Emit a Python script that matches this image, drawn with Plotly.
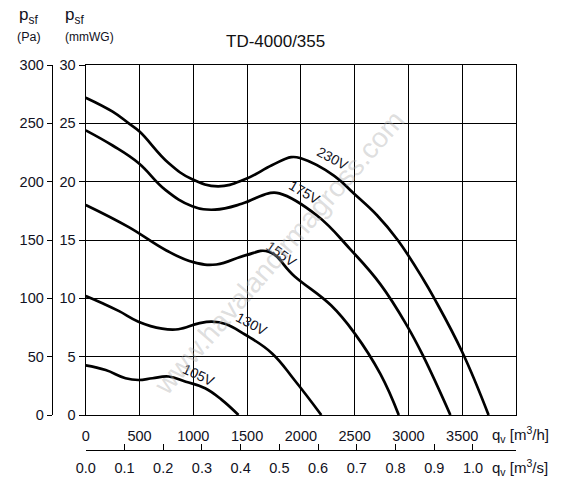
import plotly.graph_objects as go

# ---- data (q in m3/h, p in Pa) ----
q_230 = [0, 250, 400, 500, 770, 990, 1230, 1480, 1730, 1910, 2000, 2310, 2490, 2710, 2900, 3140, 3240, 3500, 3745]
p_230 = [272, 260, 250, 243, 216, 202, 196, 202, 214, 221, 220, 205, 190, 171, 150, 116, 100, 54, 0]

q_175 = [0, 250, 490, 740, 990, 1200, 1450, 1700, 1800, 2150, 2460, 2740, 2990, 3140, 3390]
p_175 = [244, 231, 216, 193, 179, 176, 181, 190, 190, 171, 142, 112, 76, 50, 0]

q_155 = [0, 400, 750, 1000, 1215, 1490, 1700, 1940, 2280, 2500, 2740, 2910]
p_155 = [180, 161, 141, 131, 129, 137, 140, 119, 94, 70, 35, 0]

q_130 = [0, 150, 310, 490, 710, 860, 1050, 1170, 1300, 1480, 1730, 1940, 2190]
p_130 = [102, 96, 89, 80, 74, 73.5, 78.5, 80, 78, 69, 53, 30, 0]

q_105 = [0, 185, 370, 490, 620, 770, 930, 1110, 1265, 1420]
p_105 = [42.5, 38.5, 31.5, 30, 31.5, 33, 28.5, 23, 13, 0]

curves = [("230V", q_230, p_230), ("175V", q_175, p_175), ("155V", q_155, p_155),
          ("130V", q_130, p_130), ("105V", q_105, p_105)]

# label positions (data coords) and angles
labels = [("230V", 2290, 220, 28), ("175V", 2030, 191, 30), ("155V", 1820, 138, 35),
          ("130V", 1545, 78, 28), ("105V", 1050, 34, 25)]

qh_ticks = [0, 500, 1000, 1500, 2000, 2500, 3000, 3500]
qs_ticks = [0.0, 0.1, 0.2, 0.3, 0.4, 0.5, 0.6, 0.7, 0.8, 0.9, 1.0]
pa_ticks = [0, 50, 100, 150, 200, 250, 300]
mm_ticks = [0, 5, 10, 15, 20, 25, 30]

W, H = 568, 496
ML, MR, MT, MB = 20, 52, 65, 30
PW, PH = W - ML - MR, H - MT - MB


def px(x, y):
    return (x - ML) / PW, (H - MB - y) / PH


FONT = "Liberation Sans, Arial, sans-serif"
TXT = "#111122"
TS = 14.5

fig = go.Figure()
for name, q, p in curves:
    fig.add_trace(go.Scatter(x=q, y=p, mode="lines", name=name,
                             line=dict(color="black", width=2.7, shape="spline", smoothing=1.2),
                             xaxis="x", yaxis="y", showlegend=False))
# helper traces so the secondary axes render
fig.add_trace(go.Scatter(x=[0], y=[0], mode="markers", marker=dict(opacity=0),
                         xaxis="x", yaxis="y2", showlegend=False, hoverinfo="skip"))
fig.add_trace(go.Scatter(x=[0], y=[0], mode="markers", marker=dict(opacity=0),
                         xaxis="x2", yaxis="y", showlegend=False, hoverinfo="skip"))

xd0 = px(84, 0)[0]
yd0 = px(0, 415)[1]
pa_pos = px(50, 0)[0]
x2_pos = px(0, 450)[1]

fig.update_layout(
    width=W, height=H, margin=dict(l=ML, r=MR, t=MT, b=MB),
    paper_bgcolor="white", plot_bgcolor="white",
    font=dict(family=FONT, size=13, color=TXT),
    xaxis=dict(domain=[xd0, 1], range=[0, 4000], tickvals=qh_ticks,
               ticktext=[str(v) for v in qh_ticks],
               showgrid=True, gridcolor="black", gridwidth=1.2,
               showline=True, linecolor="black", linewidth=1.4, mirror=True,
               ticks="", ticklabelstandoff=7, zeroline=False,
               tickfont=dict(size=TS, color=TXT)),
    xaxis2=dict(domain=[xd0, 1], range=[0, 4000 / 3600], overlaying="x",
                anchor="free", position=x2_pos, side="bottom",
                tickvals=qs_ticks, ticktext=["%.1f" % v for v in qs_ticks],
                showgrid=False, showline=True, linecolor="black", linewidth=1.4,
                ticks="inside", ticklen=6, tickcolor="black", tickwidth=1.2,
                zeroline=False, ticklabelstandoff=4,
                tickfont=dict(size=TS, color=TXT)),
    yaxis=dict(domain=[yd0, 1], range=[0, 300], tickvals=pa_ticks,
               anchor="free", position=pa_pos, side="left",
               showgrid=True, gridcolor="black", gridwidth=1.2,
               showline=True, linecolor="black", linewidth=1.4,
               ticks="outside", ticklen=5, tickcolor="black", tickwidth=1.2,
               zeroline=False, tickfont=dict(size=TS, color=TXT)),
    yaxis2=dict(domain=[yd0, 1], range=[0, 30], tickvals=mm_ticks,
                overlaying="y", anchor="x", side="left",
                showgrid=False, showline=True, linecolor="black", linewidth=1.4,
                mirror=True, ticks="outside", ticklen=6, tickcolor="black", tickwidth=1.2,
                zeroline=False, tickfont=dict(size=TS, color=TXT)),
)

ann = []
for name, qx, py_, ang in labels:
    ann.append(dict(x=qx, y=py_, xref="x", yref="y", text=name, showarrow=False,
                    textangle=ang, font=dict(size=14, color=TXT, family=FONT)))


def add_text(text, x, y, size, xanchor="left", angle=0, color=TXT):
    ax, ay = px(x, y)
    ann.append(dict(x=ax, y=ay, xref="paper", yref="paper", text=text, showarrow=False,
                    xanchor=xanchor, yanchor="middle", textangle=angle,
                    font=dict(size=size, color=color, family=FONT)))


add_text("TD-4000/355", 275, 42, 17, xanchor="center", color="#111111")
add_text("p<sub>sf</sub>", 15, 16, 17)
add_text("(Pa)", 13, 37, 12.5)
add_text("p<sub>sf</sub>", 61, 16, 17)
add_text("(mmWG)", 61, 37, 12)
add_text("q<sub>v</sub> [m<sup>3</sup>/h]", 490, 434, 15)
add_text("q<sub>v</sub> [m<sup>3</sup>/s]", 490, 468, 15)
add_text("www.havalandirmagross.com", 278, 252, 28, xanchor="center", angle=-49,
         color="rgba(170,170,170,0.4)")

fig.update_layout(annotations=ann)
fig.write_html("out.html")
